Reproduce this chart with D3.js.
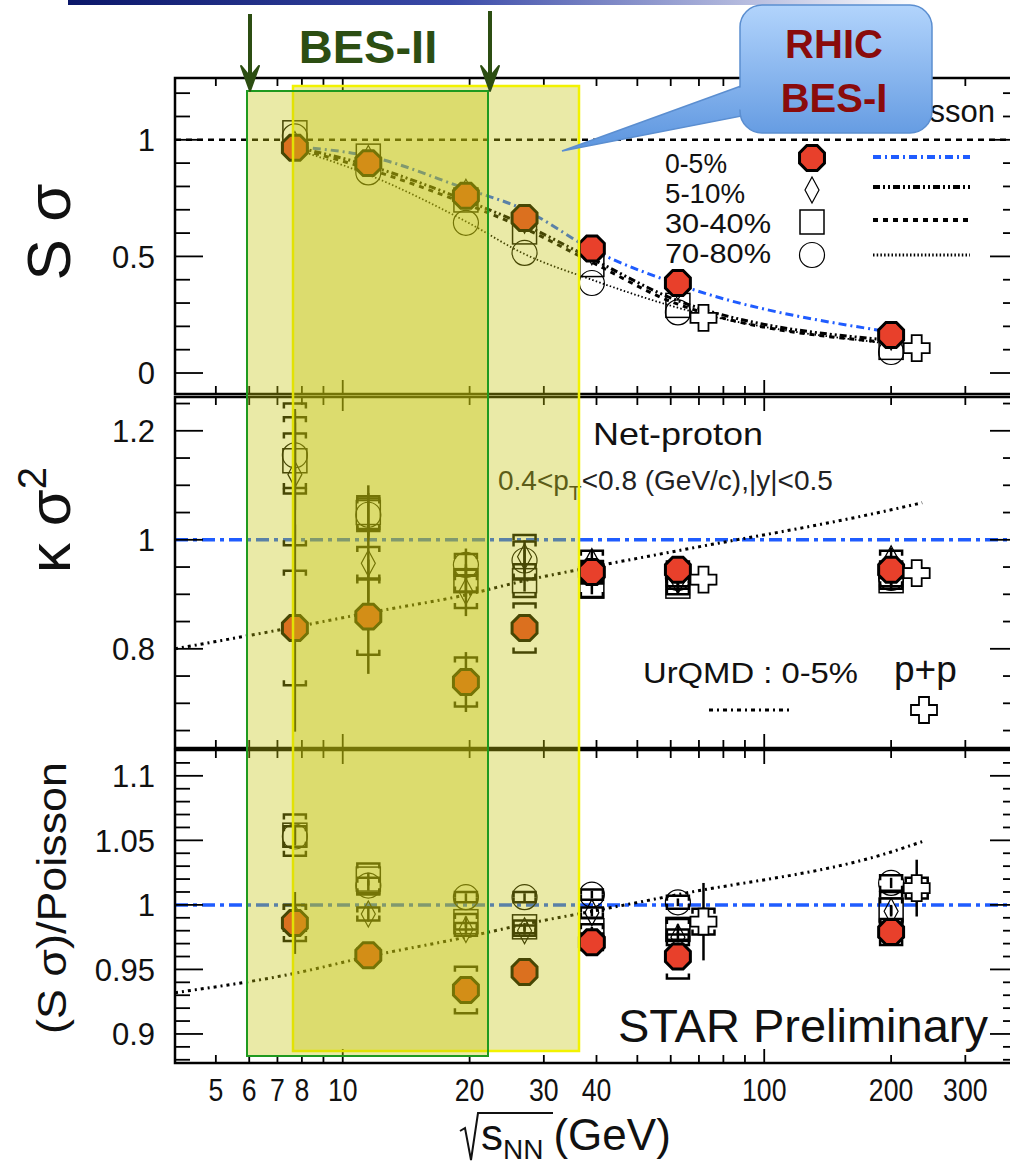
<!DOCTYPE html>
<html>
<head>
<meta charset="utf-8">
<script src="https://cdn.jsdelivr.net/npm/d3@7"></script>
<style>
  body { margin: 0; background: #fff; }
  svg { display: block; }
  text { font-family: "Liberation Sans", Arial, Helvetica, sans-serif; }
</style>
</head>
<body>
<svg id="chart" width="1010" height="1169"></svg>
<script>
// ---------------- data ----------------
const energies = [7.7, 11.5, 19.6, 27, 39, 62.4, 200];
const ppEnergies = [62.4, 200];
const centralities = ["0-5%", "5-10%", "30-40%", "70-80%"];
const xTickValues = [5, 6, 7, 8, 10, 20, 30, 40, 100, 200, 300];
const xTickLabels = ["5", "6", "7", "8", "10", "20", "30", "40", "100", "200", "300"];

// S sigma
const sSigma0_5   = [0.966, 0.900, 0.760, 0.665, 0.534, 0.386, 0.163];
const sSigma5_10  = [0.980, 0.920, 0.775, 0.655, 0.520, 0.370, 0.155];
const sSigma30_40 = [1.030, 0.930, 0.742, 0.605, 0.465, 0.290, 0.110];
const sSigma70_80 = [1.015, 0.860, 0.644, 0.515, 0.386, 0.260, 0.090];
const sSigmaPP    = [0.236, 0.107];
// UrQMD S sigma curves
const urqmdS0_5   = [0.970, 0.930, 0.790, 0.700, 0.530, 0.380, 0.175];
const urqmdS5_10  = [0.970, 0.890, 0.740, 0.635, 0.490, 0.310, 0.140];
const urqmdS30_40 = [0.965, 0.875, 0.725, 0.620, 0.475, 0.295, 0.130];
const urqmdS70_80 = [0.960, 0.850, 0.650, 0.510, 0.400, 0.280, 0.125];

// kappa sigma^2
const kSigma0_5       = [0.838, 0.859, 0.739, 0.838, 0.941, 0.945, 0.945];
const kSigma0_5Stat   = [0.190, 0.105, 0.055, 0.020, 0.015, 0.015, 0.015];
const kSigma0_5Sys    = [0.105, 0.070, 0.045, 0.045, 0.020, 0.015, 0.015];
const kSigma5_10      = [1.120, 0.957, 0.905, 0.969, 0.960, 0.925, 0.965];
const kSigma5_10Stat  = [0.120, 0.070, 0.045, 0.030, 0.020, 0.020, 0.020];
const kSigma5_10Sys   = [0.130, 0.030, 0.030, 0.040, 0.020, 0.015, 0.015];
const kSigma30_40     = [1.145, 1.050, 0.925, 0.925, 0.915, 0.915, 0.925];
const kSigma30_40Stat = [0.090, 0.050, 0.030, 0.020, 0.015, 0.015, 0.015];
const kSigma30_40Sys  = [0.050, 0.030, 0.020, 0.030, 0.020, 0.015, 0.015];
const kSigma70_80     = [1.155, 1.046, 0.954, 0.962, 0.940, 0.930, 0.930];
const kSigma70_80Stat = [0.060, 0.040, 0.030, 0.020, 0.015, 0.015, 0.015];
const kSigma70_80Sys  = [0.070, 0.030, 0.020, 0.035, 0.020, 0.015, 0.015];
const kSigmaPP        = [0.927, 0.939];
const kSigmaPPStat    = [0.010, 0.010];
const kSigmaPPSys     = [0.008, 0.008];

// (S sigma)/Poisson
const ratio0_5       = [0.986, 0.961, 0.934, 0.948, 0.971, 0.960, 0.979];
const ratio0_5Stat   = [0.024, 0.007, 0.005, 0.003, 0.003, 0.004, 0.004];
const ratio0_5Sys    = [0.014, 0.005, 0.018, 0.004, 0.006, 0.017, 0.010];
const ratio5_10      = [0.990, 0.993, 0.981, 0.980, 0.994, 0.975, 0.995];
const ratio5_10Stat  = [0.010, 0.006, 0.004, 0.003, 0.003, 0.004, 0.004];
const ratio5_10Sys   = [0.010, 0.005, 0.005, 0.004, 0.004, 0.006, 0.010];
const ratio30_40     = [1.054, 1.020, 0.987, 0.983, 0.980, 0.981, 0.996];
const ratio30_40Stat = [0.008, 0.005, 0.004, 0.003, 0.003, 0.004, 0.004];
const ratio30_40Sys  = [0.016, 0.012, 0.006, 0.005, 0.005, 0.008, 0.014];
const ratio70_80     = [1.053, 1.015, 1.006, 1.006, 1.008, 1.002, 1.017];
const ratio70_80Stat = [0.006, 0.004, 0.003, 0.003, 0.003, 0.003, 0.004];
const ratio70_80Sys  = [0.008, 0.006, 0.004, 0.004, 0.004, 0.005, 0.006];
const ratioPP        = [0.987, 1.013];
const ratioPPStat    = [0.030, 0.022];
const ratioPPSys     = [0.010, 0.008];

// UrQMD 0-5% for the lower two panels
const urqmdEnergies = [4, 7.7, 11.5, 19.6, 27, 39, 62.4, 200, 237];
const urqmdK        = [0.800, 0.840, 0.866, 0.899, 0.925, 0.950, 0.980, 1.055, 1.068];
const urqmdRatio    = [0.932, 0.947, 0.960, 0.975, 0.985, 0.995, 1.008, 1.041, 1.049];

// ---------------- setup ----------------
const svg = d3.select("#chart");
const defs = svg.append("defs");

const x = d3.scaleLog().domain([4, 400]).range([175, 1018]);
const yS = d3.scaleLinear().domain([-0.09, 1.265]).range([394, 78]);
const yK = d3.scaleLinear().domain([0.618, 1.262]).range([748, 397]);
const yR = d3.scaleLinear().domain([0.8775, 1.12]).range([1063, 750]);

const RED = "#e8402b";
const BLUE = "#1f5cff";
const ppShift = 1.15; // p+p points drawn slightly to the right of the Au+Au points

const panels = [
  { key: "s", y: yS, major: [0, 0.5, 1], labels: ["0", "0.5", "1"], minor: d3.range(0.1, 1.25, 0.1) },
  { key: "k", y: yK, major: [0.8, 1, 1.2], labels: ["0.8", "1", "1.2"], minor: d3.range(0.65, 1.26, 0.05) },
  { key: "r", y: yR, major: [0.9, 0.95, 1, 1.05, 1.1], labels: ["0.9", "0.95", "1", "1.05", "1.1"], minor: d3.range(0.88, 1.12, 0.01) }
];

panels.forEach((p, i) => {
  defs.append("clipPath").attr("id", "clip" + i)
    .append("rect")
    .attr("x", x.range()[0]).attr("y", p.y.range()[1])
    .attr("width", x.range()[1] - x.range()[0])
    .attr("height", p.y.range()[0] - p.y.range()[1]);
});

// ---------------- marker shapes ----------------
function octagonPath(r) {
  const pts = d3.range(8).map(k => {
    const a = Math.PI / 8 + k * Math.PI / 4;
    return [r * Math.cos(a), r * Math.sin(a)];
  });
  return "M" + pts.map(p => p.join(",")).join("L") + "Z";
}
function drawMarker(g, type, cx, cy) {
  if (type === "0-5%") {
    g.append("path").attr("d", octagonPath(13.5))
      .attr("transform", `translate(${cx},${cy})`)
      .attr("fill", RED).attr("stroke", "#000").attr("stroke-width", 3);
  } else if (type === "5-10%") {
    g.append("path").attr("d", "M0,-13L7,0L0,13L-7,0Z")
      .attr("transform", `translate(${cx},${cy})`)
      .attr("fill", "none").attr("stroke", "#000").attr("stroke-width", 1.2);
  } else if (type === "30-40%") {
    g.append("rect").attr("x", cx - 12).attr("y", cy - 12)
      .attr("width", 24).attr("height", 24)
      .attr("fill", "none").attr("stroke", "#000").attr("stroke-width", 1.5);
  } else if (type === "70-80%") {
    g.append("circle").attr("cx", cx).attr("cy", cy).attr("r", 12.5)
      .attr("fill", "none").attr("stroke", "#000").attr("stroke-width", 1.2);
  } else if (type === "pp") {
    const a = 5, b = 13;
    g.append("path")
      .attr("d", `M${-a},${-b}H${a}V${-a}H${b}V${a}H${a}V${b}H${-a}V${a}H${-b}V${-a}H${-a}Z`)
      .attr("transform", `translate(${cx},${cy})`)
      .attr("fill", "#fff").attr("stroke", "#000").attr("stroke-width", 1.8);
  }
}
function drawSys(g, cx, yTop, yBot) {
  const w = 11, c = 5;
  g.append("path")
    .attr("d", `M${cx - w},${yTop + c}V${yTop}H${cx + w}V${yTop + c}M${cx - w},${yBot - c}V${yBot}H${cx + w}V${yBot - c}`)
    .attr("fill", "none").attr("stroke", "#000").attr("stroke-width", 2.5);
}
function drawStat(g, cx, yTop, yBot) {
  g.append("line").attr("x1", cx).attr("x2", cx).attr("y1", yTop).attr("y2", yBot)
    .attr("stroke", "#000").attr("stroke-width", 2.5);
}

// ---------------- reference lines ----------------
const plot = svg.append("g");
plot.append("line").attr("x1", 175).attr("x2", 1018).attr("y1", yS(1)).attr("y2", yS(1))
  .attr("stroke", "#000").attr("stroke-width", 2.5).attr("stroke-dasharray", "6,5");
[yK, yR].forEach(y => {
  plot.append("line").attr("x1", 175).attr("x2", 1018).attr("y1", y(1)).attr("y2", y(1))
    .attr("stroke", BLUE).attr("stroke-width", 3.5).attr("stroke-dasharray", "13,5,4,5");
});

// ---------------- UrQMD curves ----------------
const curveStyles = {
  "0-5%":   { color: BLUE,  width: 3,   dash: "8,4,2,4" },
  "5-10%":  { color: "#000", width: 3,  dash: "7,3,2,3,2,3" },
  "30-40%": { color: "#000", width: 3,  dash: "5,5" },
  "70-80%": { color: "#000", width: 1.8, dash: "1.5,2.2" }
};
const urqmdS = { "0-5%": urqmdS0_5, "5-10%": urqmdS5_10, "30-40%": urqmdS30_40, "70-80%": urqmdS70_80 };
function lineFor(y) {
  return d3.line().x(d => x(d[0])).y(d => y(d[1])).curve(d3.curveMonotoneX);
}
const gS = plot.append("g").attr("clip-path", "url(#clip0)");
["70-80%", "30-40%", "5-10%", "0-5%"].forEach(c => {
  const st = curveStyles[c];
  gS.append("path").attr("d", lineFor(yS)(d3.zip(energies, urqmdS[c])))
    .attr("fill", "none").attr("stroke", st.color).attr("stroke-width", st.width)
    .attr("stroke-dasharray", st.dash);
});
const gK = plot.append("g").attr("clip-path", "url(#clip1)");
gK.append("path").attr("d", lineFor(yK)(d3.zip(urqmdEnergies, urqmdK)))
  .attr("fill", "none").attr("stroke", "#000").attr("stroke-width", 3).attr("stroke-dasharray", "3,4,2,4");
const gR = plot.append("g").attr("clip-path", "url(#clip2)");
gR.append("path").attr("d", lineFor(yR)(d3.zip(urqmdEnergies, urqmdRatio)))
  .attr("fill", "none").attr("stroke", "#000").attr("stroke-width", 3).attr("stroke-dasharray", "3,4,2,4");

// ---------------- data points ----------------
const zeros = energies.map(() => 0);
const panelData = [
  { g: gS, y: yS, series: {
      "70-80%": [sSigma70_80, zeros, zeros], "30-40%": [sSigma30_40, zeros, zeros],
      "5-10%": [sSigma5_10, zeros, zeros], "0-5%": [sSigma0_5, zeros, zeros] },
    pp: [sSigmaPP, [0, 0], [0, 0]] },
  { g: gK, y: yK, series: {
      "70-80%": [kSigma70_80, kSigma70_80Stat, kSigma70_80Sys],
      "30-40%": [kSigma30_40, kSigma30_40Stat, kSigma30_40Sys],
      "5-10%": [kSigma5_10, kSigma5_10Stat, kSigma5_10Sys],
      "0-5%": [kSigma0_5, kSigma0_5Stat, kSigma0_5Sys] },
    pp: [kSigmaPP, kSigmaPPStat, kSigmaPPSys] },
  { g: gR, y: yR, series: {
      "70-80%": [ratio70_80, ratio70_80Stat, ratio70_80Sys],
      "30-40%": [ratio30_40, ratio30_40Stat, ratio30_40Sys],
      "5-10%": [ratio5_10, ratio5_10Stat, ratio5_10Sys],
      "0-5%": [ratio0_5, ratio0_5Stat, ratio0_5Sys] },
    pp: [ratioPP, ratioPPStat, ratioPPSys] }
];

panelData.forEach(pd => {
  const y = pd.y;
  const errG = pd.g.append("g");
  const mkG = pd.g.append("g");
  Object.entries(pd.series).forEach(([c, [vals, stat, sys]]) => {
    vals.forEach((v, i) => {
      const cx = x(energies[i]);
      if (sys[i] > 0) drawSys(errG, cx, y(v + sys[i]), y(v - sys[i]));
      if (stat[i] > 0) drawStat(errG, cx, y(v + stat[i]), y(v - stat[i]));
      drawMarker(mkG, c, cx, y(v));
    });
  });
  const [pv, pst, psy] = pd.pp;
  pv.forEach((v, i) => {
    const cx = x(ppEnergies[i] * ppShift);
    if (psy[i] > 0) drawSys(errG, cx, y(v + psy[i]), y(v - psy[i]));
    if (pst[i] > 0) drawStat(errG, cx, y(v + pst[i]), y(v - pst[i]));
    drawMarker(mkG, "pp", cx, y(v));
  });
});

// ---------------- frames and ticks ----------------
const axes = svg.append("g");
const xMinor = [4, 5, 6, 7, 8, 9, 20, 30, 40, 50, 60, 70, 80, 90, 200, 300, 400];
const xMajor = [10, 100];
panels.forEach(p => {
  const top = p.y.range()[1], bot = p.y.range()[0];
  const L = x.range()[0], R = x.range()[1];
  axes.append("rect").attr("x", L).attr("y", top).attr("width", R - L).attr("height", bot - top)
    .attr("fill", "none").attr("stroke", "#000").attr("stroke-width", 2.5);
  const tk = axes.append("g").attr("stroke", "#000").attr("stroke-width", 1.8);
  xMinor.concat(xMajor).forEach(v => {
    const len = xMajor.includes(v) ? 14 : 8;
    tk.append("line").attr("x1", x(v)).attr("x2", x(v)).attr("y1", top).attr("y2", top + len);
    tk.append("line").attr("x1", x(v)).attr("x2", x(v)).attr("y1", bot).attr("y2", bot - len);
  });
  p.major.forEach(v => {
    tk.append("line").attr("x1", L).attr("x2", L + 28).attr("y1", p.y(v)).attr("y2", p.y(v));
    tk.append("line").attr("x1", R).attr("x2", R - 28).attr("y1", p.y(v)).attr("y2", p.y(v));
  });
  p.minor.forEach(v => {
    if (p.major.some(m => Math.abs(m - v) < 1e-6)) return;
    tk.append("line").attr("x1", L).attr("x2", L + 15).attr("y1", p.y(v)).attr("y2", p.y(v));
    tk.append("line").attr("x1", R).attr("x2", R - 15).attr("y1", p.y(v)).attr("y2", p.y(v));
  });
  p.major.forEach((v, i) => {
    axes.append("text").attr("x", 155).attr("y", p.y(v)).attr("dy", "0.36em")
      .attr("text-anchor", "end").attr("font-size", 31).attr("fill", "#111").text(p.labels[i]);
  });
});

// x tick labels
xTickValues.forEach((v, i) => {
  axes.append("text").attr("x", x(v)).attr("y", 1101).attr("text-anchor", "middle")
    .attr("font-size", 31).attr("fill", "#111")
    .attr("transform", `translate(${x(v)},0) scale(0.86,1) translate(${-x(v)},0)`)
    .text(xTickLabels[i]);
});

// x title with radical sign
const xt = axes.append("g");
xt.append("path").attr("d", "M460,1131 L465,1128 L471,1160 L478,1113 L553,1113")
  .attr("fill", "none").attr("stroke", "#111").attr("stroke-width", 2);
const xtText = xt.append("text").attr("x", 481).attr("y", 1150).attr("font-size", 44).attr("fill", "#111");
xtText.append("tspan").text("s");
xtText.append("tspan").attr("font-size", 28).attr("dy", 9).text("NN");
xtText.append("tspan").attr("dy", -9).attr("dx", 10).text("(GeV)");

// y titles
svg.append("text").attr("transform", "translate(70,232) rotate(-90)")
  .attr("text-anchor", "middle").attr("font-size", 62).attr("fill", "#111").text("S σ");
const kt = svg.append("text").attr("transform", "translate(70,520) rotate(-90)")
  .attr("text-anchor", "middle").attr("font-size", 60).attr("fill", "#111");
kt.append("tspan").text("κ σ");
kt.append("tspan").attr("font-size", 40).attr("dy", -24).text("2");
svg.append("text").attr("transform", "translate(66,898) rotate(-90)")
  .attr("text-anchor", "middle").attr("font-size", 40).attr("fill", "#111")
  .attr("textLength", 272).attr("lengthAdjust", "spacingAndGlyphs").text("(S σ)/Poisson");

// ---------------- annotations ----------------
const ann = svg.append("g");
ann.append("text").attr("x", 995).attr("y", 122).attr("text-anchor", "end")
  .attr("font-size", 31).attr("fill", "#111").text("Poisson");

// legend
const legendY = [163, 193, 223, 253];
const legendMarkY = [158, 190, 222, 255];
const legendLineY = [157, 187, 220, 255];
centralities.forEach((c, i) => {
  ann.append("text").attr("x", 665).attr("y", legendY[i]).attr("dy", "0.36em")
    .attr("font-size", 28).attr("fill", "#111")
    .attr("textLength", [62, 80, 106, 106][i]).attr("lengthAdjust", "spacingAndGlyphs")
    .text(c);
  drawMarker(ann, c, 812, legendMarkY[i]);
  const st = curveStyles[c];
  ann.append("line").attr("x1", 873).attr("x2", 970).attr("y1", legendLineY[i]).attr("y2", legendLineY[i])
    .attr("stroke", st.color).attr("stroke-width", st.width + 1).attr("stroke-dasharray", st.dash);
});

ann.append("text").attr("x", 593).attr("y", 445).attr("font-size", 32).attr("fill", "#111")
  .attr("textLength", 170).attr("lengthAdjust", "spacingAndGlyphs").text("Net-proton");
const kin = ann.append("text").attr("x", 498).attr("y", 490).attr("font-size", 28).attr("fill", "#222");
kin.append("tspan").text("0.4<p");
kin.append("tspan").attr("font-size", 21).attr("dy", 10).text("T");
kin.append("tspan").attr("dy", -10).text("<0.8 (GeV/c),|y|<0.5");

ann.append("text").attr("x", 643).attr("y", 683).attr("font-size", 30).attr("fill", "#111")
  .attr("textLength", 215).attr("lengthAdjust", "spacingAndGlyphs").text("UrQMD : 0-5%");
ann.append("text").attr("x", 894).attr("y", 682).attr("font-size", 37).attr("fill", "#111").text("p+p");
ann.append("line").attr("x1", 709).attr("x2", 793).attr("y1", 710).attr("y2", 710)
  .attr("stroke", "#000").attr("stroke-width", 3).attr("stroke-dasharray", "4,4,2,4");
drawMarker(ann, "pp", 924, 710);

ann.append("text").attr("x", 618).attr("y", 1042).attr("font-size", 47).attr("fill", "#111")
  .text("STAR Preliminary");

// ---------------- beam energy scan bands ----------------
const bands = svg.append("g");
bands.append("rect").attr("x", 293).attr("y", 86).attr("width", 579 - 293).attr("height", 1051 - 86)
  .attr("fill", "rgb(196,196,10)").attr("fill-opacity", 0.36)
  .attr("stroke", "#f2f200").attr("stroke-width", 2.5);
bands.append("rect").attr("x", 247).attr("y", 91).attr("width", 488 - 247).attr("height", 1056 - 91)
  .attr("fill", "rgb(196,196,10)").attr("fill-opacity", 0.36)
  .attr("stroke", "#1f9a1f").attr("stroke-width", 2);

// arrows and BES-II title
const green = "#2c4e12";
[[250, 14], [490, 11]].forEach(([ax, ay]) => {
  bands.append("line").attr("x1", ax).attr("x2", ax).attr("y1", ay).attr("y2", 84)
    .attr("stroke", green).attr("stroke-width", 4);
  bands.append("path").attr("d", `M${ax - 9},${66} L${ax},${91} L${ax + 9},${66} L${ax},${77} Z`)
    .attr("fill", green).attr("stroke", green).attr("stroke-width", 2).attr("stroke-linejoin", "round");
});
bands.append("text").attr("x", 368).attr("y", 63).attr("text-anchor", "middle")
  .attr("font-size", 47).attr("font-weight", "bold").attr("fill", green).text("BES-II");

// header bar
const hg = defs.append("linearGradient").attr("id", "hdr")
  .attr("gradientUnits", "userSpaceOnUse").attr("x1", 68).attr("x2", 920).attr("y1", 0).attr("y2", 0);
hg.append("stop").attr("offset", 0).attr("stop-color", "#0b1769");
hg.append("stop").attr("offset", 0.45).attr("stop-color", "#3a4aa8");
hg.append("stop").attr("offset", 1).attr("stop-color", "#ffffff");
svg.append("rect").attr("x", 68).attr("y", 0).attr("width", 860).attr("height", 5).attr("fill", "url(#hdr)");

// callout
const cg = defs.append("linearGradient").attr("id", "callout")
  .attr("gradientUnits", "userSpaceOnUse").attr("x1", 0).attr("x2", 0).attr("y1", 5).attr("y2", 150);
cg.append("stop").attr("offset", 0).attr("stop-color", "#b2d4fc");
cg.append("stop").attr("offset", 1).attr("stop-color", "#5c95df");
const co = svg.append("g");
co.append("path").attr("d", "M752,82 L562,151 L752,114 Z")
  .attr("fill", "url(#callout)").attr("stroke", "#5b8ed0").attr("stroke-width", 1.5);
co.append("rect").attr("x", 740).attr("y", 5).attr("width", 192).attr("height", 128).attr("rx", 22)
  .attr("fill", "url(#callout)").attr("stroke", "#5b8ed0").attr("stroke-width", 1.5);
co.append("path").attr("d", "M752,83.5 L738,88.5 L738,109 L752,112.5 Z").attr("fill", "url(#callout)");
co.append("text").attr("x", 834).attr("y", 58).attr("text-anchor", "middle")
  .attr("font-size", 40).attr("font-weight", "bold").attr("fill", "#8a0b0b").text("RHIC");
co.append("text").attr("x", 834).attr("y", 112).attr("text-anchor", "middle")
  .attr("font-size", 40).attr("font-weight", "bold").attr("fill", "#8a0b0b").text("BES-I");
</script>
</body>
</html>
